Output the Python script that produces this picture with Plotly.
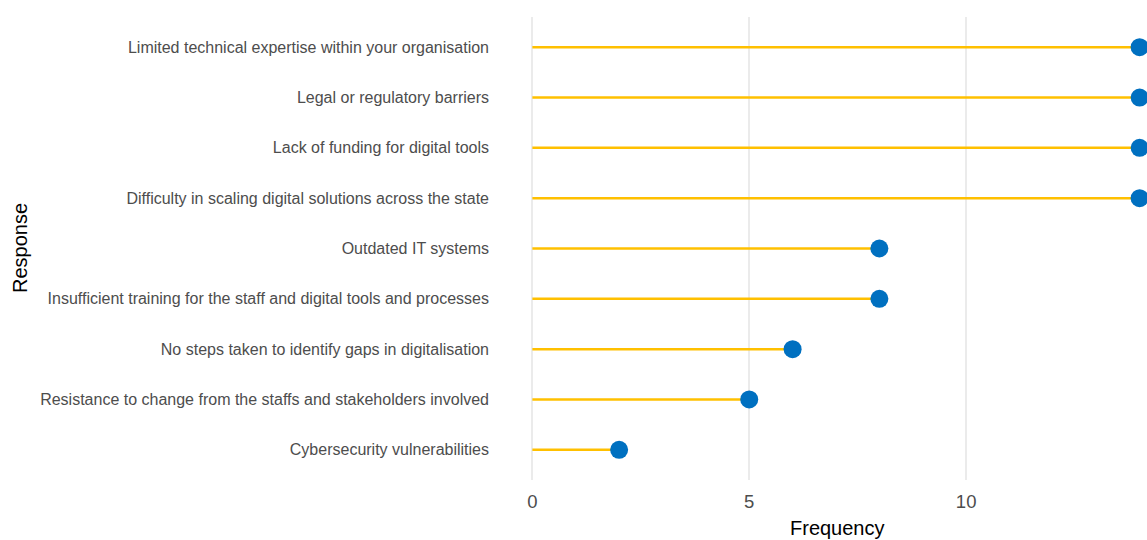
import plotly.graph_objects as go

responses = [
    "Cybersecurity vulnerabilities",
    "Resistance to change from the staffs and stakeholders involved",
    "No steps taken to identify gaps in digitalisation",
    "Insufficient training for the staff and digital tools and processes",
    "Outdated IT systems",
    "Difficulty in scaling digital solutions across the state",
    "Lack of funding for digital tools",
    "Legal or regulatory barriers",
    "Limited technical expertise within your organisation",
]
frequency = [2, 5, 6, 8, 8, 14, 14, 14, 14]

fig = go.Figure()

for r, f in zip(responses, frequency):
    fig.add_trace(go.Scatter(
        x=[0, f], y=[r, r], mode="lines",
        line=dict(color="#FFC000", width=2.5),
        showlegend=False, hoverinfo="skip",
    ))

fig.add_trace(go.Scatter(
    x=frequency, y=responses, mode="markers",
    marker=dict(color="#0070C0", size=18),
    showlegend=False,
))

W, H = 1147, 540
l, r, t, b = 502, 0, 17, 60
pw, ph = W - l - r, H - t - b

fig.update_layout(
    width=W, height=H,
    margin=dict(l=l, r=r, t=t, b=b),
    paper_bgcolor="white", plot_bgcolor="white",
    font=dict(family="Liberation Sans, Arial, sans-serif"),
    xaxis=dict(
        range=[-0.7, 14.17],
        tickvals=[0, 5, 10],
        ticktext=["0", "5", "10"],
        showgrid=True, gridcolor="#EBEBEB", gridwidth=1.6,
        zeroline=False, showline=False,
        tickfont=dict(size=18.5, color="#4D4D4D"),
        ticks="", ticklabelstandoff=8,
    ),
    yaxis=dict(
        categoryorder="array", categoryarray=responses,
        range=[-0.6, 8.6],
        showgrid=False, zeroline=False, showline=False,
        tickfont=dict(size=16, color="#4D4D4D"),
        ticks="", ticklabelstandoff=12,
    ),
    annotations=[
        dict(text="Frequency", x=(837 - l) / pw, y=(H - b - 528) / ph,
             xref="paper", yref="paper", xanchor="center", yanchor="middle",
             showarrow=False, font=dict(size=20, color="black")),
        dict(text="Response", x=(20 - l) / pw, y=(H - b - 248) / ph,
             xref="paper", yref="paper", xanchor="center", yanchor="middle",
             textangle=-90, showarrow=False, font=dict(size=20, color="black")),
    ],
)

fig.write_html(
    "out.html",
    config={"displayModeBar": False},
    post_script="document.body.style.margin='0';document.body.style.overflow='hidden';",
)
